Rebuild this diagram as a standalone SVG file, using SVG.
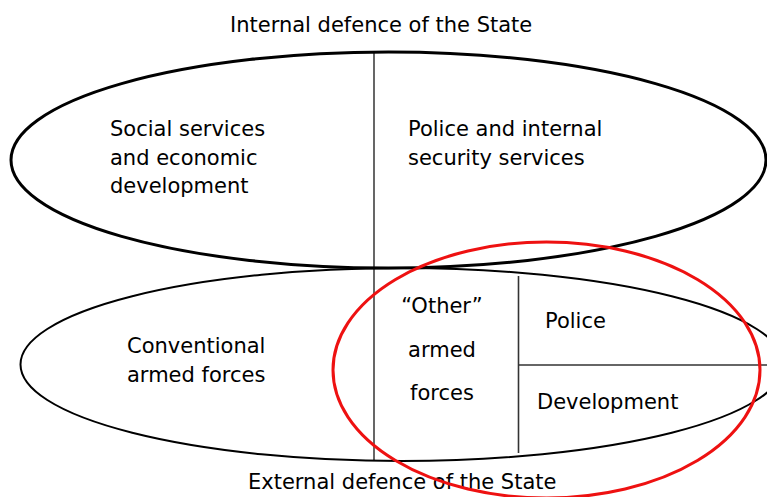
<svg xmlns="http://www.w3.org/2000/svg" width="767" height="497" viewBox="0 0 767 497">
  <style>
    text { font-family: "DejaVu Sans", Verdana, sans-serif; font-size: 21px; fill: #000; }
    .c { text-anchor: middle; }
    .outline { fill: none; stroke: #000; }
    .divider { fill: none; stroke: #000; stroke-width: 1.2; }
    .cell { fill: none; stroke: #333; stroke-width: 1.6; }
  </style>

  <rect width="767" height="497" fill="#fff"/>

  <!-- Internal defence -->
  <g id="internal">
    <ellipse class="outline" cx="388.5" cy="160" rx="377.5" ry="108" stroke-width="3"/>
    <text x="230" y="32">Internal defence of the State</text>
    <text x="110" y="136">Social services</text>
    <text x="110" y="164.5">and economic</text>
    <text x="110" y="193">development</text>
    <text x="408" y="136">Police and internal</text>
    <text x="408" y="164.5">security services</text>
  </g>

  <!-- External defence -->
  <g id="external">
    <ellipse class="outline" cx="402" cy="364.5" rx="381.5" ry="96.5" stroke-width="2"/>
    <text x="127" y="353">Conventional</text>
    <text x="127" y="382">armed forces</text>
    <text x="248" y="489">External defence of the State</text>
  </g>

  <!-- Dividing lines -->
  <g id="connectors">
    <line class="divider" x1="374" y1="51" x2="374" y2="461"/>
    <line class="cell" x1="518.5" y1="276" x2="518.5" y2="453"/>
    <line class="cell" x1="518.5" y1="365" x2="767" y2="365"/>
  </g>

  <!-- Other armed forces -->
  <g id="other-forces">
    <text class="c" x="442" y="313">“Other”</text>
    <text class="c" x="442" y="357">armed</text>
    <text class="c" x="442" y="400">forces</text>
  </g>

  <g id="police">
    <text x="545" y="328">Police</text>
  </g>

  <g id="development">
    <text x="537" y="409">Development</text>
  </g>

  <!-- Highlight -->
  <g id="highlight">
    <ellipse cx="546.5" cy="370" rx="213.5" ry="128" fill="none" stroke="#ee1111" stroke-width="3"/>
  </g>
</svg>
